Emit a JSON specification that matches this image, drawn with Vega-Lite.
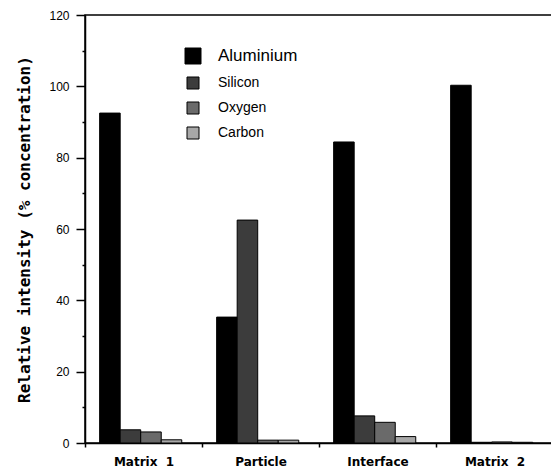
{
  "$schema": "https://vega.github.io/schema/vega-lite/v6.json",
  "autosize": "none",
  "width": 468,
  "height": 428,
  "padding": {"left": 85, "top": 15, "right": 0, "bottom": 32},
  "background": "white",
  "config": {
    "view": {"stroke": "black", "strokeWidth": 1.5},
    "font": "Liberation Sans"
  },
  "data": {
    "values": [
      {"sample": "Matrix\u00a0 1", "element": "Aluminium", "value": 92.5},
      {"sample": "Matrix\u00a0 1", "element": "Silicon", "value": 3.7},
      {"sample": "Matrix\u00a0 1", "element": "Oxygen", "value": 3.1},
      {"sample": "Matrix\u00a0 1", "element": "Carbon", "value": 0.9},
      {"sample": "Particle", "element": "Aluminium", "value": 35.3},
      {"sample": "Particle", "element": "Silicon", "value": 62.5},
      {"sample": "Particle", "element": "Oxygen", "value": 0.8},
      {"sample": "Particle", "element": "Carbon", "value": 0.8},
      {"sample": "Interface", "element": "Aluminium", "value": 84.4},
      {"sample": "Interface", "element": "Silicon", "value": 7.6},
      {"sample": "Interface", "element": "Oxygen", "value": 5.8},
      {"sample": "Interface", "element": "Carbon", "value": 1.8},
      {"sample": "Matrix\u00a0 2", "element": "Aluminium", "value": 100.3},
      {"sample": "Matrix\u00a0 2", "element": "Silicon", "value": 0.2},
      {"sample": "Matrix\u00a0 2", "element": "Oxygen", "value": 0.3},
      {"sample": "Matrix\u00a0 2", "element": "Carbon", "value": 0.2}
    ]
  },
  "mark": {"type": "bar", "stroke": "black", "strokeWidth": 1},
  "encoding": {
    "x": {
      "field": "sample",
      "type": "nominal",
      "sort": null,
      "scale": {"paddingInner": 0, "paddingOuter": 0},
      "axis": {
        "title": null,
        "labelAngle": 0,
        "labelFont": "DejaVu Sans",
        "labelFontWeight": "bold",
        "labelFontSize": 12,
        "labelColor": "black",
        "labelPadding": 9,
        "tickBand": "extent",
        "tickSize": 4,
        "tickColor": "black",
        "tickWidth": 1.5,
        "domainColor": "black",
        "domainWidth": 1.5
      }
    },
    "xOffset": {
      "field": "element",
      "type": "nominal",
      "sort": ["Aluminium", "Silicon", "Oxygen", "Carbon"],
      "scale": {"paddingInner": 0, "paddingOuter": 0.85, "align": 0.42}
    },
    "y": {
      "field": "value",
      "type": "quantitative",
      "scale": {"domain": [0, 120], "nice": false},
      "axis": {
        "title": "Relative intensity (% concentration)",
        "titleFont": "DejaVu Sans Mono",
        "titleFontWeight": "bold",
        "titleFontSize": 16,
        "titleColor": "black",
        "titlePadding": 16,
        "values": [0, 10, 20, 30, 40, 50, 60, 70, 80, 90, 100, 110, 120],
        "labelExpr": "datum.value % 20 === 0 ? datum.label : ''",
        "labelFont": "Liberation Sans",
        "labelFontSize": 12,
        "labelColor": "black",
        "labelPadding": 7,
        "grid": false,
        "tickColor": "black",
        "tickWidth": 1.5,
        "tickSize": {"condition": {"test": "datum.value % 20 === 0", "value": 9}, "value": 3},
        "domainColor": "black",
        "domainWidth": 1.5
      }
    },
    "fill": {
      "field": "element",
      "type": "nominal",
      "sort": ["Aluminium", "Silicon", "Oxygen", "Carbon"],
      "scale": {
        "domain": ["Aluminium", "Silicon", "Oxygen", "Carbon"],
        "range": ["#000000", "#3c3c3c", "#6a6a6a", "#a8a8a8"]
      },
      "legend": {
        "title": null,
        "orient": "none",
        "legendX": 101,
        "legendY": 34,
        "symbolType": "square",
        "symbolSize": 256,
        "symbolStrokeColor": "black",
        "symbolStrokeWidth": 1,
        "labelFont": "Liberation Sans",
        "labelFontSize": 14,
        "labelColor": "black",
        "labelOffset": 18,
        "rowPadding": 9,
        "encode": {
          "symbols": {
            "update": {
              "size": {"signal": "datum.value === 'Aluminium' ? 256 : 144"}
            }
          },
          "labels": {
            "update": {
              "fontSize": {"signal": "datum.value === 'Aluminium' ? 17 : 14"}
            }
          }
        }
      }
    }
  }
}
